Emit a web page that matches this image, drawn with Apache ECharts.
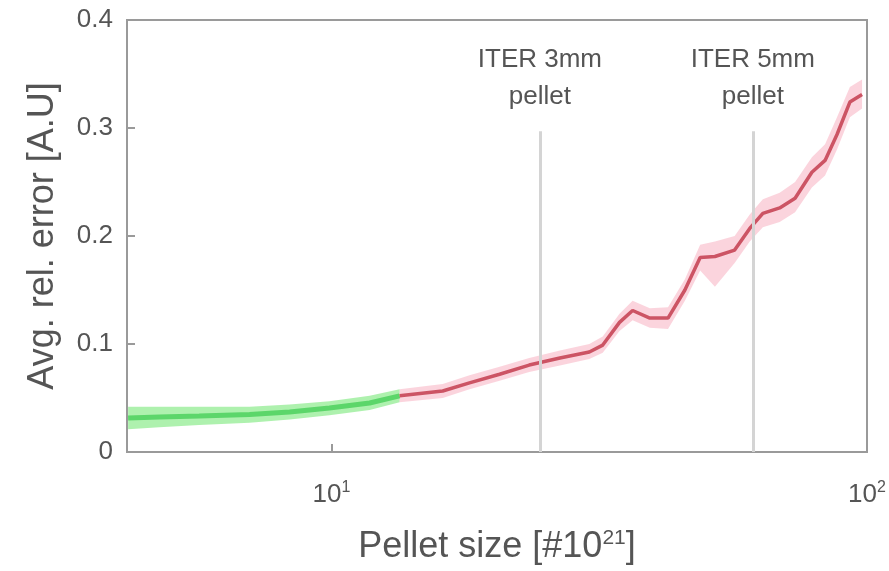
<!DOCTYPE html>
<html>
<head>
<meta charset="utf-8">
<script src="https://cdn.jsdelivr.net/npm/echarts@6/dist/echarts.min.js"></script>
<style>
html,body{margin:0;padding:0;background:#fff;}
#chart{width:889px;height:571px;}
</style>
</head>
<body>
<div id="chart"></div>
<script>
// Pellet size [x10^21]
var pelletSize = [4.17, 4.77, 5.66, 7.03, 8.35, 9.91, 11.78, 13.4, 16.13, 18.1, 20.6, 23.4, 26.7, 30.3, 32.1, 34.5, 36.5, 39.3, 42.5, 45.7, 48.8, 52.0, 56.6, 60.4, 63.9, 68.7, 73.4, 78.9, 83.5, 87.9, 92.9, 97.9];
// Average relative error (mean)
var avgError  = [0.0315, 0.0324, 0.0333, 0.0347, 0.037, 0.0407, 0.0454, 0.052, 0.0565, 0.064, 0.072, 0.0805, 0.087, 0.0926, 0.099, 0.12, 0.131, 0.124, 0.124, 0.15, 0.18, 0.181, 0.187, 0.207, 0.221, 0.226, 0.235, 0.259, 0.27, 0.294, 0.324, 0.331];
// error band lower / upper
var bandLow   = [0.021, 0.023, 0.025, 0.027, 0.030, 0.034, 0.039, 0.046, 0.050, 0.058, 0.066, 0.074, 0.080, 0.086, 0.092, 0.112, 0.122, 0.115, 0.114, 0.140, 0.168, 0.153, 0.175, 0.195, 0.208, 0.213, 0.222, 0.245, 0.256, 0.280, 0.310, 0.318];
var bandHigh  = [0.042, 0.042, 0.042, 0.042, 0.044, 0.047, 0.052, 0.058, 0.063, 0.071, 0.079, 0.087, 0.094, 0.100, 0.107, 0.128, 0.140, 0.133, 0.134, 0.160, 0.192, 0.195, 0.200, 0.220, 0.234, 0.240, 0.250, 0.273, 0.285, 0.310, 0.338, 0.345];
// index where the curve switches from green to red
var switchIndex = 7;
// ITER reference pellet sizes
var iterSizes  = [24.5, 61.2];
var iterLabels = ['ITER 3mm\npellet', 'ITER 5mm\npellet'];
var iterTop = 0.297;
// axes
var xMin = 4.15, xMax = 100;
var yMin = 0, yMax = 0.4, yStep = 0.1;

function pairs(xs, ys, a, b) {
  var out = [];
  for (var i = a; i <= b; i++) out.push([xs[i], ys[i]]);
  return out;
}
function bandItems(a, b) {
  var out = [];
  for (var i = a; i <= b; i++) out.push([pelletSize[i], bandLow[i], bandHigh[i]]);
  return out;
}
function bandRender(color) {
  return function (params, api) {
    if (params.dataIndex !== 0) return null;
    var data = params.context.items || (params.context.items = this_items[color]);
    return null;
  };
}
var last = pelletSize.length - 1;
var greenBand = bandItems(0, switchIndex);
var redBand = bandItems(switchIndex, last);

function makeBandSeries(items, color) {
  return {
    type: 'custom', silent: true, z: 1,
    data: items,
    encode: {x: 0, y: [1, 2]},
    renderItem: function (params, api) {
      if (params.dataIndex !== 0) return null;
      var top = [], bot = [];
      for (var i = 0; i < items.length; i++) {
        top.push(api.coord([items[i][0], items[i][2]]));
        bot.unshift(api.coord([items[i][0], items[i][1]]));
      }
      var cs = params.coordSys;
      return {
        type: 'polygon',
        shape: {points: top.concat(bot)},
        style: {fill: color},
        clipPath: {type: 'rect', shape: {x: cs.x, y: cs.y, width: cs.width, height: cs.height}}
      };
    }
  };
}

var FONT = 'Liberation Sans, Arial, sans-serif';
var chart = echarts.init(document.getElementById('chart'), null, {renderer: 'canvas'});
var option = {
  backgroundColor: '#ffffff',
  animation: false,
  textStyle: {fontFamily: FONT},
  grid: {left: 127, right: 22, top: 20, bottom: 119, show: true, borderColor: '#9a9a9a', borderWidth: 2, backgroundColor: 'transparent'},
  xAxis: {
    type: 'log', logBase: 10, min: xMin, max: xMax,
    name: 'Pellet size [#10{s|21}]',
    nameLocation: 'middle', nameGap: 76,
    nameTextStyle: {fontSize: 36, color: '#555', fontFamily: FONT,
      rich: {s: {fontSize: 21, color: '#555', padding: [0, 0, 18, 0], fontFamily: FONT}}},
    axisLine: {show: true, lineStyle: {color: '#9a9a9a', width: 2}},
    axisTick: {show: true, inside: true, length: 8, lineStyle: {color: '#9a9a9a', width: 2}},
    minorTick: {show: false},
    splitLine: {show: false},
    axisLabel: {
      margin: 28, color: '#555', fontSize: 26,
      formatter: function (v) {
        var e = Math.log10(v);
        if (Math.abs(e - Math.round(e)) > 1e-6) return '';
        return '{b|10}{s|' + Math.round(e) + '}';
      },
      rich: {b: {fontSize: 26, color: '#555', fontFamily: FONT}, s: {fontSize: 16, color: '#555', padding: [0, 0, 14, 0], fontFamily: FONT}}
    }
  },
  yAxis: {
    type: 'value', min: yMin, max: yMax, interval: yStep,
    name: 'Avg. rel. error [A.U]',
    nameLocation: 'middle', nameGap: 66, nameRotate: 90,
    nameTextStyle: {fontSize: 36, color: '#555', fontFamily: FONT},
    axisLine: {show: true, lineStyle: {color: '#9a9a9a', width: 2}},
    axisTick: {show: true, inside: true, length: 8, lineStyle: {color: '#9a9a9a', width: 2}},
    splitLine: {show: false},
    axisLabel: {margin: 14, color: '#555', fontSize: 26, fontFamily: FONT}
  },
  series: [
    makeBandSeries(greenBand, 'rgba(120,232,120,0.6)'),
    makeBandSeries(redBand, 'rgba(246,160,180,0.45)'),
    {type: 'line', data: pairs(pelletSize, avgError, 0, switchIndex), symbol: 'none', lineStyle: {color: 'rgb(92,214,106)', width: 5}, z: 3},
    {type: 'line', data: pairs(pelletSize, avgError, switchIndex, last), symbol: 'none', lineStyle: {color: 'rgb(204,84,100)', width: 3.5}, z: 3,
      markLine: {
        silent: true, symbol: ['none', 'none'],
        lineStyle: {color: '#d4d4d4', width: 3, type: 'solid'},
        label: {show: true, position: 'end', distance: 16, fontSize: 26, lineHeight: 37, color: '#555', fontFamily: FONT,
          formatter: function (p) { return p.data && p.data.lbl ? p.data.lbl : ''; }},
        data: iterSizes.map(function (s, i) {
          return [{coord: [s, yMin], lbl: iterLabels[i]}, {coord: [s, iterTop], lbl: iterLabels[i]}];
        })
      }
    }
  ]
};
chart.setOption(option);
</script>
</body>
</html>
